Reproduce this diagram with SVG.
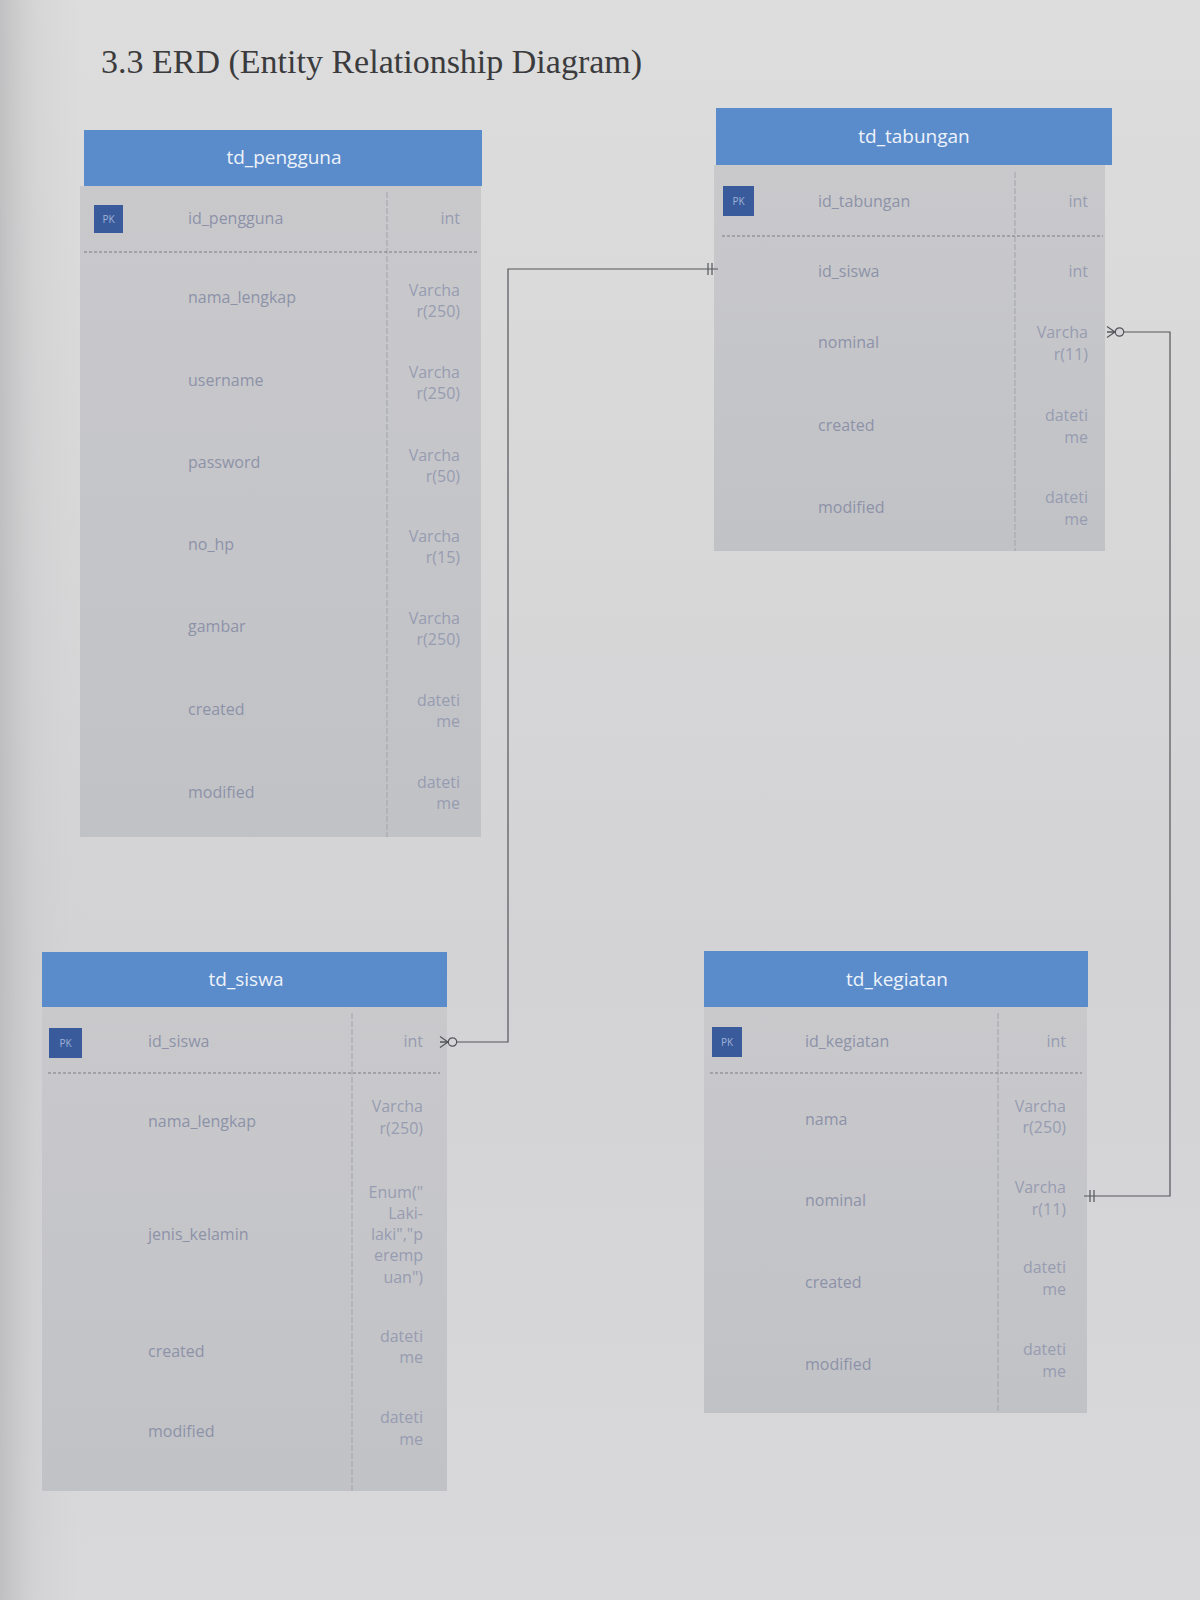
<svg xmlns="http://www.w3.org/2000/svg" width="1200" height="1600" viewBox="0 0 1200 1600">
<defs>
<linearGradient id="pageV" x1="0" y1="0" x2="0" y2="1">
<stop offset="0" stop-color="#dddddd"/>
<stop offset="0.6" stop-color="#d3d3d5"/>
<stop offset="1" stop-color="#d9d9db"/>
</linearGradient>
<linearGradient id="pageH" x1="0" y1="0" x2="1" y2="0">
<stop offset="0" stop-color="#b4b4b6" stop-opacity="0.7"/>
<stop offset="0.03" stop-color="#c8c8ca" stop-opacity="0.35"/>
<stop offset="0.07" stop-color="#d2d2d4" stop-opacity="0"/>
<stop offset="1" stop-color="#d2d2d4" stop-opacity="0"/>
</linearGradient>
<linearGradient id="bodyG" x1="0" y1="0" x2="0" y2="1">
<stop offset="0" stop-color="#c9c9cc"/>
<stop offset="1" stop-color="#c1c2c6"/>
</linearGradient>
<marker id="zeroMany" viewBox="-20 -8 24 16" refX="0" refY="0" markerWidth="24" markerHeight="16" markerUnits="userSpaceOnUse" orient="auto-start-reverse" overflow="visible">
<path d="M0,-5.5 L-8,0 L0,5.5 M0,0 L-8,0" fill="none" stroke="#55565a" stroke-width="1.2"/>
<circle cx="-12.5" cy="0" r="4.2" fill="#d6d6d8" stroke="#55565a" stroke-width="1.2"/>
</marker>
<marker id="oneOne" viewBox="-14 -8 16 16" refX="0" refY="0" markerWidth="16" markerHeight="16" markerUnits="userSpaceOnUse" orient="auto" overflow="visible">
<path d="M-6,-6 V6 M-10,-6 V6" fill="none" stroke="#55565a" stroke-width="1.2"/>
</marker>
</defs>
<style>
.hdr{fill:#5a8bca}
.body{fill:url(#bodyG)}
.pk{fill:#3a5b9b}
.pkt{font-family:"Open Sans",sans-serif;font-size:10px;fill:#9db1d6;text-anchor:middle}
.ttl{font-family:"Open Sans",sans-serif;font-size:19px;fill:#eef3fb;text-anchor:middle}
.nm{font-family:"Open Sans",sans-serif;font-size:16px;fill:#8d92a8}
.ty{font-family:"Open Sans",sans-serif;font-size:16px;fill:#979cb1;text-anchor:end}
.div{stroke:#a2a3a9;stroke-width:1;stroke-dasharray:6 2;fill:none}
.dash{stroke:#7a7b82;stroke-width:1;stroke-dasharray:3 2;fill:none}
.conn{fill:none;stroke:#55565a;stroke-width:1.2}
.title{font-family:"Liberation Serif","Times New Roman",serif;font-size:34px;fill:#3b3b3d}
</style>

<rect x="0" y="0" width="1200" height="1600" fill="url(#pageV)"/>
<rect x="0" y="0" width="1200" height="1600" fill="url(#pageH)"/>

<text class="title" x="101" y="73">3.3 ERD (Entity Relationship Diagram)</text>

<g id="td_pengguna">
<rect class="hdr" x="84" y="130" width="398" height="56"/>
<rect class="body" x="80" y="186" width="401" height="651"/>
<text class="ttl" x="284" y="164">td_pengguna</text>
<line class="div" x1="387" y1="192" x2="387" y2="837"/>
<rect class="pk" x="94" y="205" width="29" height="28"/>
<text class="pkt" x="108.5" y="223">PK</text>
<text class="nm" x="188" y="224">id_pengguna</text>
<text class="ty" x="460" y="224">int</text>
<line class="dash" x1="84" y1="252" x2="478" y2="252"/>
<text class="nm" x="188" y="303">nama_lengkap</text>
<text class="ty" x="460" y="296">Varcha</text>
<text class="ty" x="460" y="317">r(250)</text>
<text class="nm" x="188" y="386">username</text>
<text class="ty" x="460" y="378">Varcha</text>
<text class="ty" x="460" y="399">r(250)</text>
<text class="nm" x="188" y="468">password</text>
<text class="ty" x="460" y="461">Varcha</text>
<text class="ty" x="460" y="482">r(50)</text>
<text class="nm" x="188" y="550">no_hp</text>
<text class="ty" x="460" y="542">Varcha</text>
<text class="ty" x="460" y="563">r(15)</text>
<text class="nm" x="188" y="632">gambar</text>
<text class="ty" x="460" y="624">Varcha</text>
<text class="ty" x="460" y="645">r(250)</text>
<text class="nm" x="188" y="715">created</text>
<text class="ty" x="460" y="706">dateti</text>
<text class="ty" x="460" y="727">me</text>
<text class="nm" x="188" y="798">modified</text>
<text class="ty" x="460" y="788">dateti</text>
<text class="ty" x="460" y="809">me</text>
</g>

<g id="td_tabungan">
<rect class="hdr" x="716" y="108" width="396" height="57"/>
<rect class="body" x="714" y="165" width="391" height="386"/>
<text class="ttl" x="914" y="143">td_tabungan</text>
<line class="div" x1="1015" y1="172" x2="1015" y2="551"/>
<rect class="pk" x="723" y="186" width="31" height="30"/>
<text class="pkt" x="738.5" y="205">PK</text>
<text class="nm" x="818" y="207">id_tabungan</text>
<text class="ty" x="1088" y="207">int</text>
<line class="dash" x1="722" y1="236" x2="1103" y2="236"/>
<text class="nm" x="818" y="277">id_siswa</text>
<text class="ty" x="1088" y="277">int</text>
<text class="nm" x="818" y="348">nominal</text>
<text class="ty" x="1088" y="338">Varcha</text>
<text class="ty" x="1088" y="360">r(11)</text>
<text class="nm" x="818" y="431">created</text>
<text class="ty" x="1088" y="421">dateti</text>
<text class="ty" x="1088" y="443">me</text>
<text class="nm" x="818" y="513">modified</text>
<text class="ty" x="1088" y="503">dateti</text>
<text class="ty" x="1088" y="525">me</text>
</g>

<g id="td_siswa">
<rect class="hdr" x="42" y="952" width="405" height="55"/>
<rect class="body" x="42" y="1007" width="405" height="484"/>
<text class="ttl" x="246" y="986">td_siswa</text>
<line class="div" x1="352" y1="1013" x2="352" y2="1491"/>
<rect class="pk" x="49" y="1028" width="33" height="30"/>
<text class="pkt" x="65.5" y="1047">PK</text>
<text class="nm" x="148" y="1047">id_siswa</text>
<text class="ty" x="423" y="1047">int</text>
<line class="dash" x1="48" y1="1073" x2="440" y2="1073"/>
<text class="nm" x="148" y="1127">nama_lengkap</text>
<text class="ty" x="423" y="1112">Varcha</text>
<text class="ty" x="423" y="1134">r(250)</text>
<text class="nm" x="148" y="1240">jenis_kelamin</text>
<text class="ty" x="423" y="1198">Enum("</text>
<text class="ty" x="423" y="1219">Laki-</text>
<text class="ty" x="423" y="1240">laki","p</text>
<text class="ty" x="423" y="1261">eremp</text>
<text class="ty" x="423" y="1283">uan")</text>
<text class="nm" x="148" y="1357">created</text>
<text class="ty" x="423" y="1342">dateti</text>
<text class="ty" x="423" y="1363">me</text>
<text class="nm" x="148" y="1437">modified</text>
<text class="ty" x="423" y="1423">dateti</text>
<text class="ty" x="423" y="1445">me</text>
</g>

<g id="td_kegiatan">
<rect class="hdr" x="704" y="951" width="384" height="56"/>
<rect class="body" x="704" y="1007" width="383" height="406"/>
<text class="ttl" x="897" y="986">td_kegiatan</text>
<line class="div" x1="998" y1="1013" x2="998" y2="1413"/>
<rect class="pk" x="712" y="1027" width="30" height="30"/>
<text class="pkt" x="727" y="1046">PK</text>
<text class="nm" x="805" y="1047">id_kegiatan</text>
<text class="ty" x="1066" y="1047">int</text>
<line class="dash" x1="710" y1="1073" x2="1082" y2="1073"/>
<text class="nm" x="805" y="1125">nama</text>
<text class="ty" x="1066" y="1112">Varcha</text>
<text class="ty" x="1066" y="1133">r(250)</text>
<text class="nm" x="805" y="1206">nominal</text>
<text class="ty" x="1066" y="1193">Varcha</text>
<text class="ty" x="1066" y="1215">r(11)</text>
<text class="nm" x="805" y="1288">created</text>
<text class="ty" x="1066" y="1273">dateti</text>
<text class="ty" x="1066" y="1295">me</text>
<text class="nm" x="805" y="1370">modified</text>
<text class="ty" x="1066" y="1355">dateti</text>
<text class="ty" x="1066" y="1377">me</text>
</g>

<g id="connectors">
<path class="conn" d="M440,1042 H508 V269 H718" marker-start="url(#zeroMany)" marker-end="url(#oneOne)"/>
<path class="conn" d="M1107,332 H1170 V1196 H1084" marker-start="url(#zeroMany)" marker-end="url(#oneOne)"/>
</g>
</svg>
